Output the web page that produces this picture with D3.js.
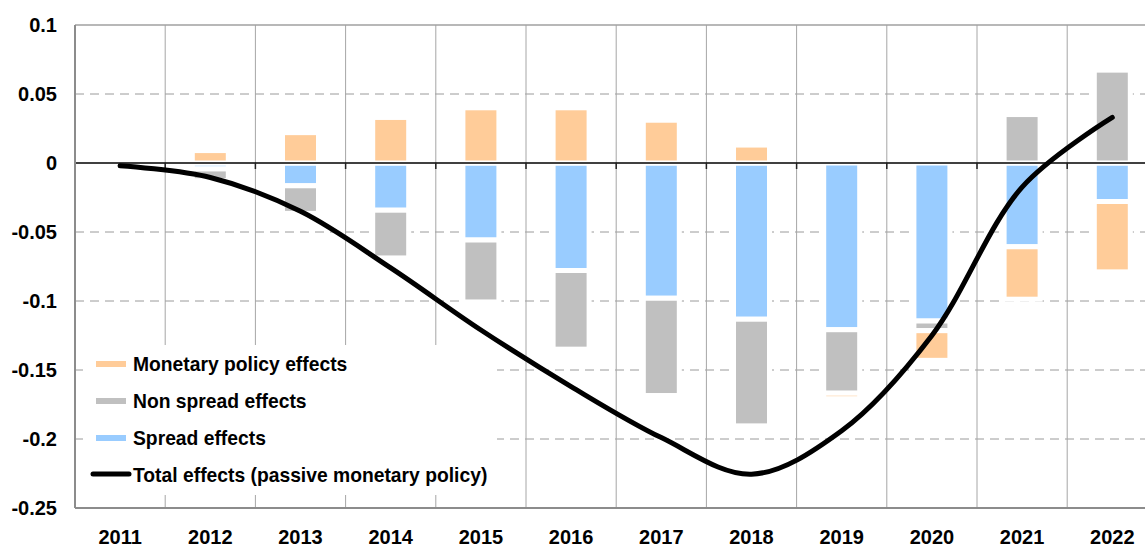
<!DOCTYPE html>
<html>
<head>
<meta charset="utf-8">
<script src="https://cdn.jsdelivr.net/npm/d3@7"></script>
<style>
  html, body { margin: 0; padding: 0; background: #fff; }
  svg { display: block; font-family: "Liberation Sans", Arial, sans-serif; }
</style>
</head>
<body>
<svg id="chart" width="1145" height="547"></svg>
<script>
// ---- data ----
const years = ["2011","2012","2013","2014","2015","2016","2017","2018","2019","2020","2021","2022"];
const monetaryPolicy = [0, 0.009, 0.022, 0.033, 0.040, 0.040, 0.031, 0.013, -0.004, -0.0215, -0.038, -0.051];
const nonSpread      = [0, -0.0085, -0.020, -0.0346, -0.0449, -0.057, -0.0705, -0.0773, -0.046, -0.0070, 0.0351, 0.0673];
const spread         = [0, -0.0043, -0.0165, -0.0342, -0.0558, -0.0779, -0.098, -0.1132, -0.1208, -0.1145, -0.0607, -0.0279];
const totalEffects   = [-0.002, -0.0105, -0.035, -0.076, -0.121, -0.162, -0.199, -0.2255, -0.194, -0.125, -0.0175, 0.033];
const yTicks = [0.1, 0.05, 0, -0.05, -0.1, -0.15, -0.2, -0.25];
const yTickLabels = ["0.1", "0.05", "0", "-0.05", "-0.1", "-0.15", "-0.2", "-0.25"];
const seriesNames = ["Monetary policy effects", "Non spread effects", "Spread effects", "Total effects (passive monetary policy)"];

(function () {
const colors = { monetary: "#FFCC99", nonSpread: "#C0C0C0", spread: "#99CCFF", total: "#000000" };

// ---- layout ----
const svg = d3.select("#chart");
const pLeft = 75, pTop = 25, pBottom = 508, step = 90.2;
const pRight = pLeft + step * years.length;

const x = d3.scaleBand().domain(years).range([pLeft, pRight]).padding(0);
const y = d3.scaleLinear().domain([-0.25, 0.1]).range([pBottom, pTop]);
const barW = 36;

const table = years.map((yr, i) => ({
  year: yr, spread: spread[i], nonSpread: nonSpread[i], monetary: monetaryPolicy[i]
}));
const keys = ["spread", "nonSpread", "monetary"];
const stacked = d3.stack().keys(keys).offset(d3.stackOffsetDiverging)(table);

// ---- gridlines ----
const gridH = yTicks.filter(v => v !== 0 && v !== 0.1 && v !== -0.25);
svg.append("g").selectAll("line").data(gridH).join("line")
  .attr("x1", pLeft).attr("x2", 1145)
  .attr("y1", d => y(d)).attr("y2", d => y(d))
  .attr("stroke", "#9a9a9a").attr("stroke-width", 1)
  .attr("stroke-dasharray", "9,6");

svg.append("g").selectAll("line").data(years.slice(1)).join("line")
  .attr("x1", d => x(d)).attr("x2", d => x(d))
  .attr("y1", pTop).attr("y2", pBottom)
  .attr("stroke", "#a6a6a6").attr("stroke-width", 1);

svg.append("line").attr("x1", pLeft).attr("x2", 1145)
  .attr("y1", y(0.1)).attr("y2", y(0.1))
  .attr("stroke", "#a0a0a0").attr("stroke-width", 1.5);

// ---- bars ----
svg.append("g").selectAll("g").data(stacked).join("g")
  .attr("fill", d => colors[d.key])
  .selectAll("rect").data(d => d.filter(s => Math.abs(s[1] - s[0]) > 1e-9)).join("rect")
  .attr("x", d => x(d.data.year) + x.bandwidth() / 2 - barW / 2)
  .attr("width", barW)
  .attr("y", d => y(Math.max(d[0], d[1])))
  .attr("height", d => Math.abs(y(d[0]) - y(d[1])))
  .attr("stroke", "#ffffff").attr("stroke-width", 5);

// ---- axes lines ----
svg.append("line").attr("x1", pLeft).attr("x2", 1145)
  .attr("y1", y(0)).attr("y2", y(0))
  .attr("stroke", "#000").attr("stroke-width", 1.5);
svg.append("g").selectAll("line").data(years).join("line")
  .attr("x1", d => x(d)).attr("x2", d => x(d))
  .attr("y1", y(0)).attr("y2", y(0) + 6)
  .attr("stroke", "#222").attr("stroke-width", 1.5);
svg.append("line").attr("x1", pLeft).attr("x2", 1145)
  .attr("y1", pBottom).attr("y2", pBottom)
  .attr("stroke", "#8c8c8c").attr("stroke-width", 2);
svg.append("line").attr("x1", pLeft).attr("x2", pLeft)
  .attr("y1", pTop).attr("y2", pBottom)
  .attr("stroke", "#8c8c8c").attr("stroke-width", 2);

const yAxis = d3.axisLeft(y).tickValues(yTicks)
  .tickFormat((d, i) => yTickLabels[i]).tickSize(0).tickPadding(18);
const gy = svg.append("g").attr("transform", `translate(${pLeft},0)`).call(yAxis);
gy.select(".domain").remove();
gy.selectAll("text").attr("font-size", 20).attr("font-weight", "bold")
  .attr("fill", "#000").attr("font-family", "Liberation Sans, Arial, sans-serif");

const xAxis = d3.axisBottom(x).tickSize(0).tickPadding(22);
const gx = svg.append("g").attr("transform", `translate(0,${pBottom})`).call(xAxis);
gx.select(".domain").remove();
gx.selectAll("text").attr("font-size", 20).attr("font-weight", "bold")
  .attr("fill", "#000").attr("font-family", "Liberation Sans, Arial, sans-serif");

// ---- legend ----
const lg = svg.append("g");
lg.append("rect").attr("x", 83).attr("y", 345).attr("width", 414).attr("height", 150).attr("fill", "#fff");
const legendItems = [
  { name: seriesNames[0], color: colors.monetary, type: "bar" },
  { name: seriesNames[1], color: colors.nonSpread, type: "bar" },
  { name: seriesNames[2], color: colors.spread, type: "bar" },
  { name: seriesNames[3], color: colors.total, type: "line" }
];
legendItems.forEach((it, i) => {
  const cy = 364 + i * 37;
  if (it.type === "bar") {
    lg.append("rect").attr("x", 96).attr("y", cy - 3).attr("width", 30).attr("height", 6).attr("fill", it.color);
  } else {
    lg.append("line").attr("x1", 93).attr("x2", 129).attr("y1", cy - 1).attr("y2", cy - 1)
      .attr("stroke", it.color).attr("stroke-width", 5).attr("stroke-linecap", "round");
  }
  lg.append("text").attr("x", 133).attr("y", cy).attr("dy", "0.35em")
    .attr("font-size", 19.3).attr("font-weight", "bold").attr("fill", "#000")
    .text(it.name);
});

// ---- total line ----
const line = d3.line()
  .x((d, i) => x(years[i]) + x.bandwidth() / 2)
  .y(d => y(d))
  .curve(d3.curveCatmullRom.alpha(0.5));
svg.append("path").datum(totalEffects)
  .attr("d", line).attr("fill", "none")
  .attr("stroke", colors.total).attr("stroke-width", 5)
  .attr("stroke-linecap", "round").attr("stroke-linejoin", "round");
})();
</script>
</body>
</html>
